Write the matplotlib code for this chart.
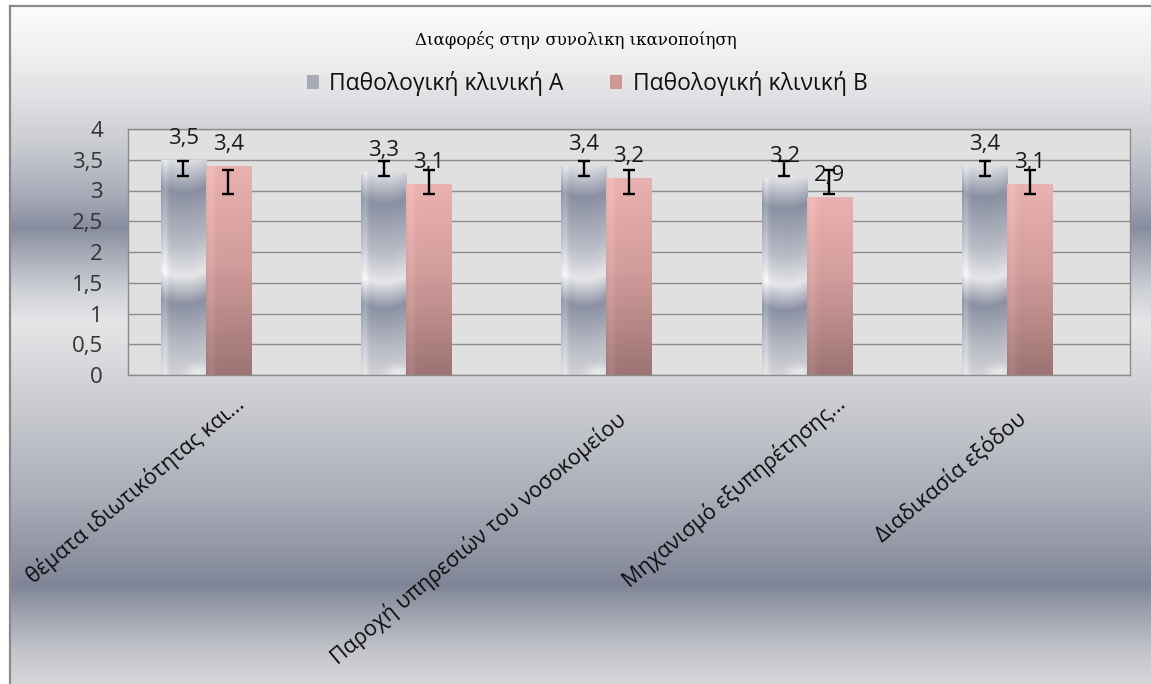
import numpy as np
import matplotlib
matplotlib.use("Agg")
import matplotlib.pyplot as plt
from matplotlib.colors import to_rgb
from matplotlib.patches import Patch, Rectangle
from matplotlib.transforms import ScaledTranslation

# ---- data -----------------------------------------------------------
categories = [
    "θέματα ιδιωτικότητας και...",
    "",
    "Παροχή υπηρεσιών του νοσοκομείου",
    "Μηχανισμό εξυπηρέτησης...",
    "Διαδικασία εξόδου",
]
series_names = ["Παθολογική κλινική A", "Παθολογική κλινική B"]
clinic_a = [3.5, 3.3, 3.4, 3.2, 3.4]
clinic_b = [3.4, 3.1, 3.2, 2.9, 3.1]
# error bar ranges (lower, upper)
err_a_low = [3.24, 3.24, 3.24, 3.24, 3.24]
err_a_high = [3.48, 3.48, 3.48, 3.48, 3.48]
err_b_low = [2.95, 2.95, 2.95, 2.95, 2.95]
err_b_high = [3.33, 3.33, 3.33, 3.33, 3.33]
y_ticks = [0, 0.5, 1, 1.5, 2, 2.5, 3, 3.5, 4]
title = "Διαφορές στην συνολικη ικανοποίηση"

W, H, DPI = 1151, 684, 100
sans = ["Open Sans", "DejaVu Sans"]


def ramp(stops, pos):
    """Interpolate colour stops [(p, colour), ...] at positions pos."""
    ps = np.array([p for p, _ in stops], float)
    cs = np.array([to_rgb(c) for _, c in stops])
    return np.stack([np.interp(pos, ps, cs[:, k]) for k in range(3)], axis=-1)


fig = plt.figure(figsize=(W / DPI, H / DPI), dpi=DPI)
fig.patch.set_facecolor("white")

# ---- chart-area background (vertical metallic bands) ---------------
bg = fig.add_axes([0, 0, 1, 1], zorder=-5)
bg.set_axis_off()
bg_stops = [
    (0, "#ffffff"), (8, "#fbfbfb"), (50, "#f1f1f2"), (100, "#dfe0e3"),
    (150, "#c7c9d0"), (200, "#a4a8b5"), (228, "#878d9f"), (252, "#a5a9b5"),
    (290, "#cdd0d6"), (322, "#e6e6e8"), (360, "#d9dadd"), (420, "#c5c7cd"),
    (500, "#a9adb8"), (560, "#8d92a2"), (585, "#7f8597"), (612, "#9ea2ae"),
    (650, "#c2c4ca"), (684, "#d6d7da"),
]
col = ramp(bg_stops, np.arange(H) + 0.5)
bg_img = np.repeat(col[:, None, :], 4, axis=1)
bg.imshow(bg_img, extent=(0, 1, 0, 1), aspect="auto", interpolation="bilinear")
bg.set_xlim(0, 1)
bg.set_ylim(0, 1)
# white margin outside the chart frame and the frame edge
bg.add_patch(Rectangle((0, 0), 9 / W, 1, color="white", lw=0))
bg.add_patch(Rectangle((0, 1 - 5 / H), 1, 5 / H, color="white", lw=0))
bg.plot([9.5 / W, 9.5 / W], [0, 1 - 5.5 / H], color="#8a8a8a", lw=1.6)
bg.plot([9.5 / W, 1], [1 - 5.5 / H, 1 - 5.5 / H], color="#8a8a8a", lw=1.6)

# ---- plot area ----------------------------------------------------
left, right, top, bottom = 128, 1130, 129, 375
ax = fig.add_axes([left / W, 1 - bottom / H, (right - left) / W, (bottom - top) / H])
ax.set_facecolor("#e0e0e0")
for s in ax.spines.values():
    s.set_color("#8c8c8c")
    s.set_linewidth(1.0)

x = np.arange(len(categories))
w = 0.225
bars_a = ax.bar(x - w, clinic_a, w, color="none", lw=0, zorder=2)
bars_b = ax.bar(x, clinic_b, w, color="none", lw=0, zorder=2)

# chrome fill for series A, pink fill for series B (row 0 = top of bar)
ny, nx = 240, 40
u = np.linspace(0, 1, nx)[None, :]
v = np.linspace(0, 1, ny)[:, None]
t = v + 0.03 * ((u - 0.5) * 2) ** 2 - 0.015
chrome_stops = [
    (-0.1, "#e2e3e6"), (0.0, "#dadce1"), (0.14, "#8a90a2"), (0.38, "#b9bcc6"),
    (0.53, "#e6e6e9"), (0.66, "#8b91a3"), (0.85, "#b8bbc4"), (1.05, "#dcdcde"),
]
chrome = ramp(chrome_stops, t)
edge = 0.08 * np.exp(-((u - 0.08) / 0.07) ** 2)
chrome = np.clip(chrome + edge[..., None], 0, 1)
hl = np.exp(-(((u - 0.8) / 0.25) ** 2 + ((v - 0.985) / 0.03) ** 2))
chrome = chrome * (1 - 0.5 * hl[..., None]) + 0.5 * hl[..., None]
pink = ramp([(0, "#e9b1b0"), (0.45, "#d39d9c"), (1, "#9c7473")],
            np.repeat(v, nx, axis=1))
pink = np.clip(pink + 0.04 * np.exp(-((u - 0.1) / 0.1) ** 2)[..., None], 0, 1)

for bars, img in ((bars_a, chrome), (bars_b, pink)):
    for p in bars:
        x0, y0 = p.get_x(), p.get_y()
        im = ax.imshow(img, extent=(x0, x0 + p.get_width(), y0, y0 + p.get_height()),
                       origin="upper", aspect="auto", interpolation="bilinear", zorder=2)
        im.set_clip_path(p)

ax.errorbar(x - w, (np.array(err_a_low) + err_a_high) / 2,
            yerr=(np.array(err_a_high) - err_a_low) / 2, fmt="none",
            ecolor="black", elinewidth=1.7, capsize=4.5, capthick=1.7, zorder=4)
ax.errorbar(x, (np.array(err_b_low) + err_b_high) / 2,
            yerr=(np.array(err_b_high) - err_b_low) / 2, fmt="none",
            ecolor="black", elinewidth=1.7, capsize=4.5, capthick=1.7, zorder=4)


def fmt(v):
    return f"{v:.1f}".replace(".", ",")


for xs, vals in ((x - w, clinic_a), (x, clinic_b)):
    for xi, vi in zip(xs, vals):
        ax.annotate(fmt(vi), (xi, vi), xytext=(0, 15.5), textcoords="offset points",
                    ha="center", va="center", fontsize=16, family=sans,
                    color="#1a1a1a", zorder=5)

ax.set_xlim(-0.5, len(categories) - 0.5)
ax.set_ylim(0, 4)
ax.set_yticks(y_ticks)
ax.set_yticklabels([fmt(v) if v % 1 else f"{int(v)}" for v in y_ticks],
                   family=sans, fontsize=16, color="#333333")
ax.tick_params(axis="y", length=0, pad=18)
ax.set_xticks([])
ax.yaxis.grid(True, color="#8c8c8c", lw=1.0)
ax.set_axisbelow(True)

# rotated category labels
ang = 40
base = ax.get_xaxis_transform()
for i, lab in enumerate(categories):
    if not lab:
        continue
    dx, dy = -6, -42
    if lab.endswith("..."):
        dx += 25 * np.cos(np.radians(ang))
        dy += 25 * np.sin(np.radians(ang))
    tr = base + ScaledTranslation(dx / DPI, dy / DPI, fig.dpi_scale_trans)
    ax.text(i, 0, lab, rotation=ang, rotation_mode="anchor", ha="right", va="center",
            transform=tr, fontsize=15.5, family=sans, color="#0d0d0d", clip_on=False)

# ---- title and legend ---------------------------------------------
fig.text(576 / W, 1 - 40 / H, title, ha="center", va="center",
         family=["DejaVu Serif"], fontsize=12, color="#000000")
handles = [Patch(facecolor="#a9acb6", edgecolor="none"),
           Patch(facecolor="#cf9796", edgecolor="none")]
fig.legend(handles, series_names, loc="center", bbox_to_anchor=(587 / W, 1 - 84 / H),
           ncol=2, frameon=False, handlelength=0.55, handleheight=0.55,
           handletextpad=0.45, columnspacing=2.0,
           prop={"family": sans, "size": 16.5})
for t_ in fig.legends[0].get_texts():
    t_.set_color("#111111")

fig.savefig("out.png", dpi=DPI)
